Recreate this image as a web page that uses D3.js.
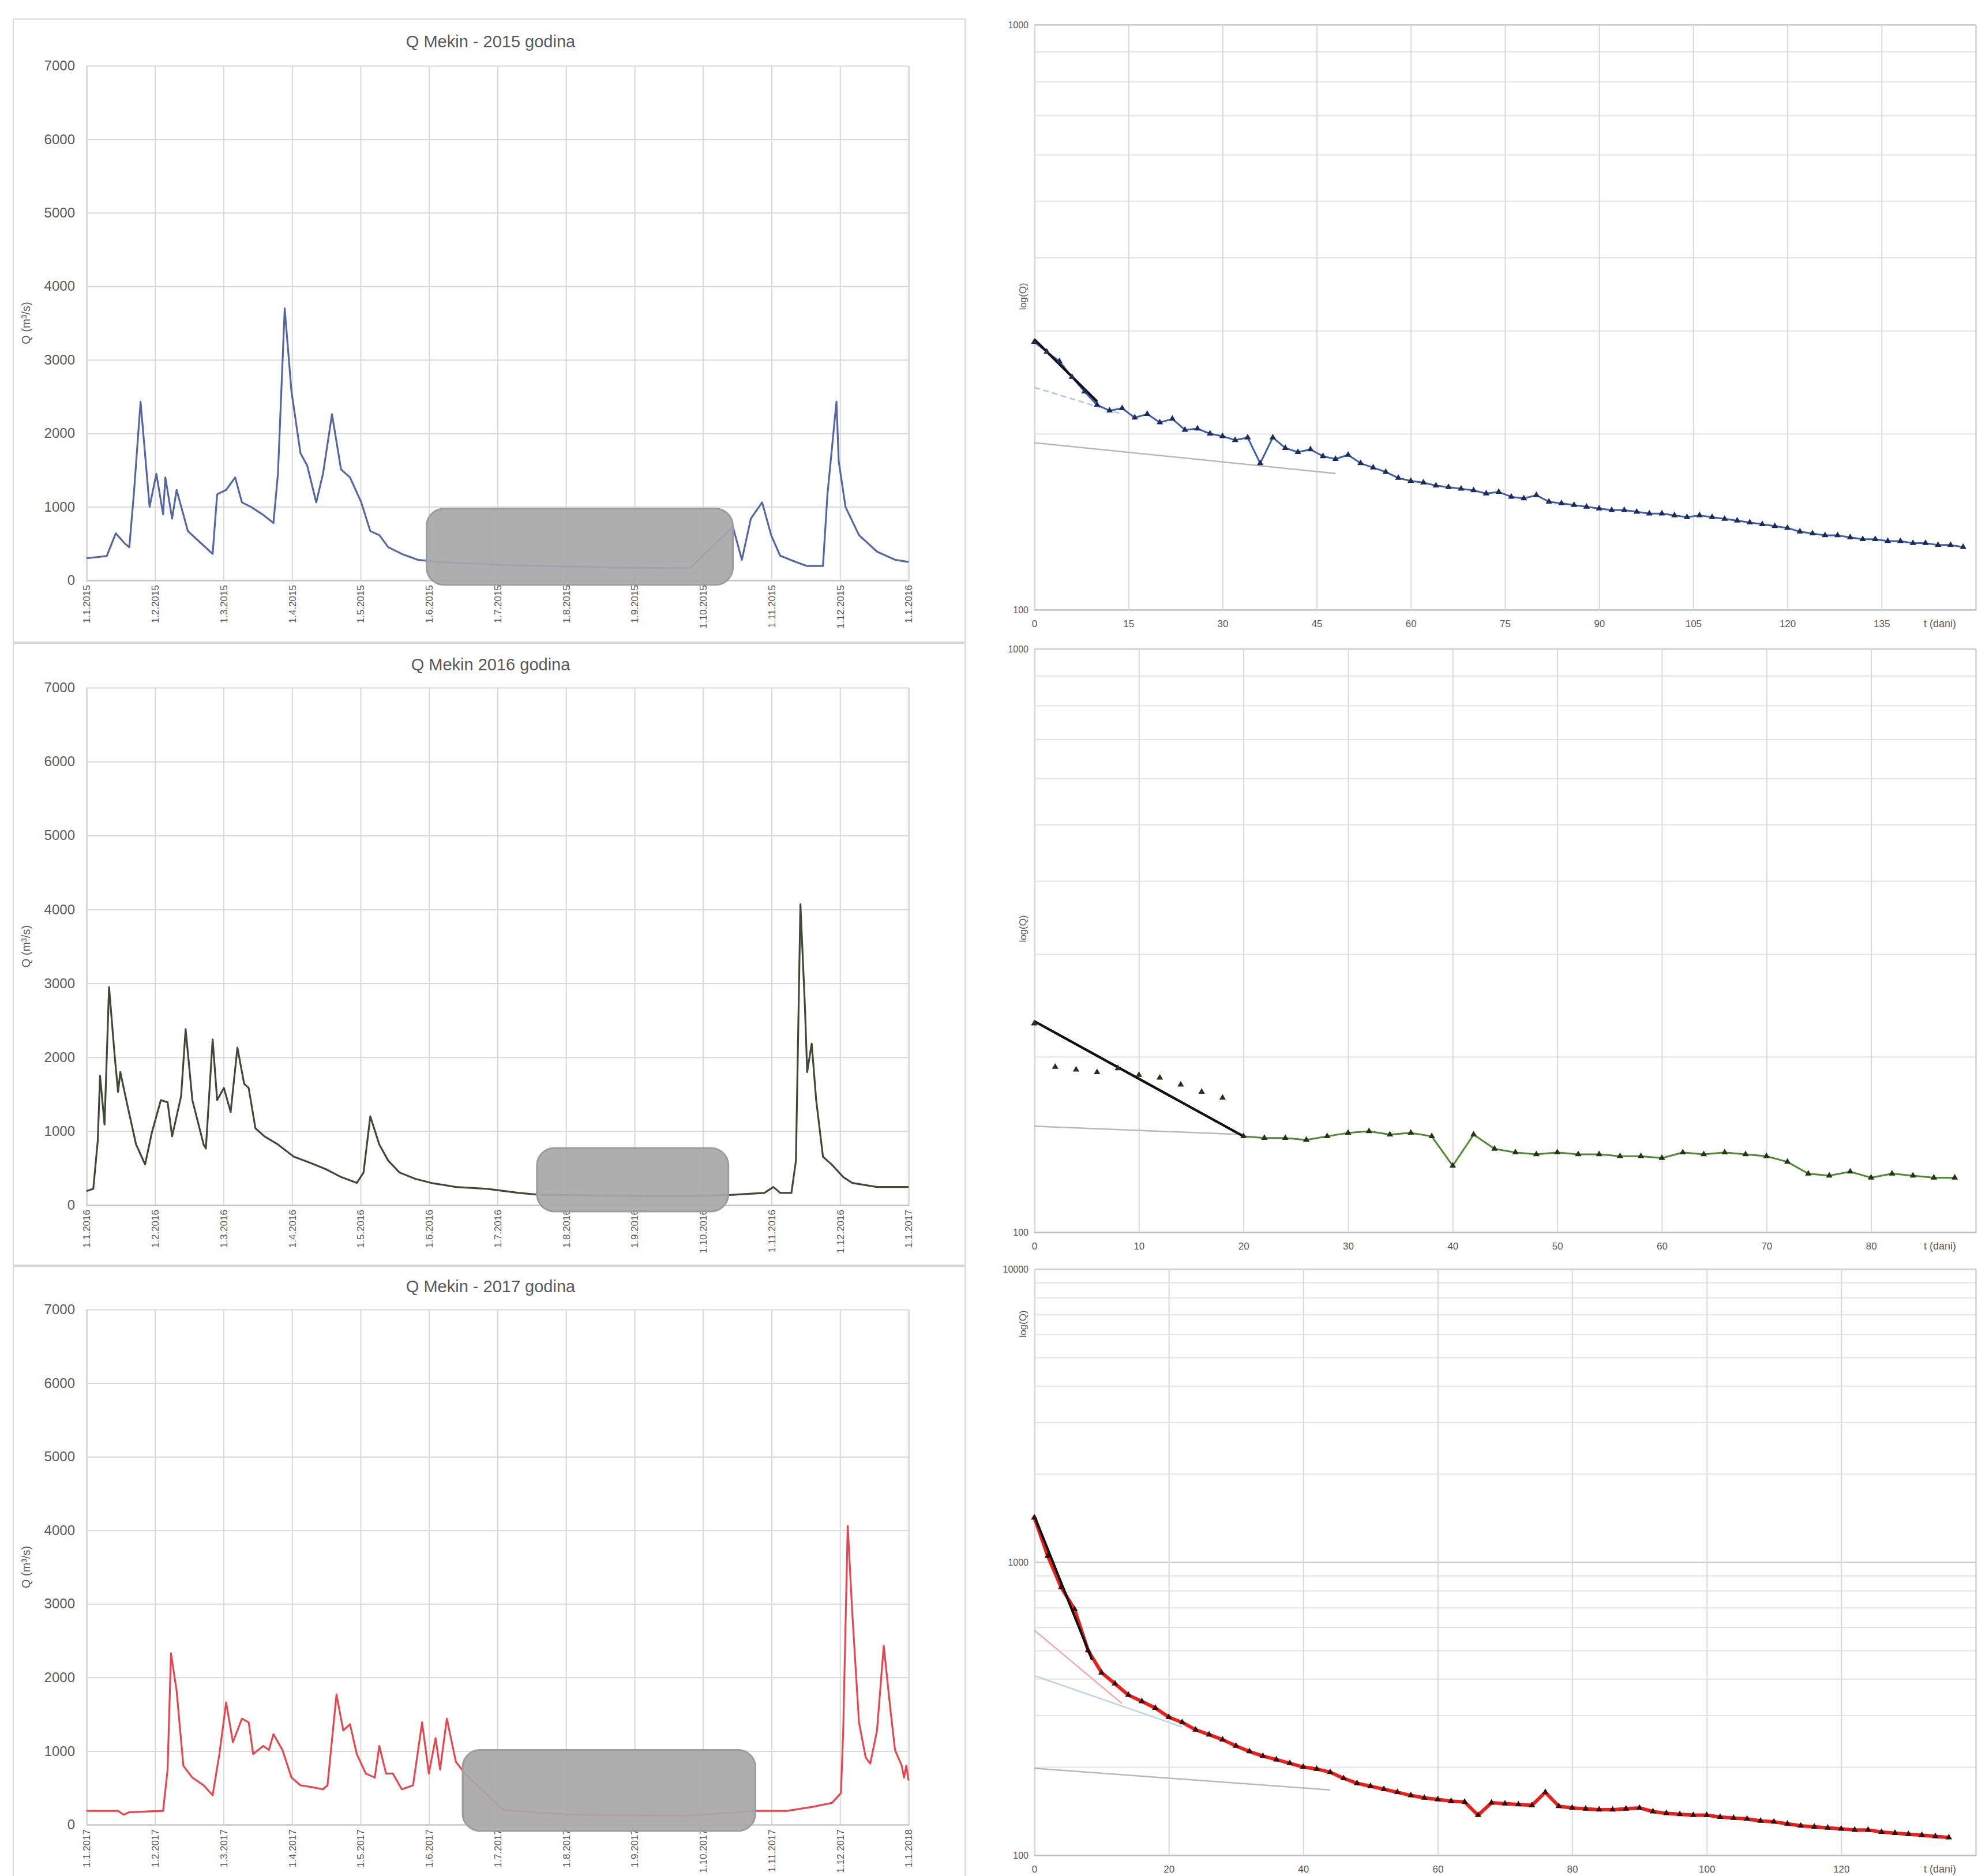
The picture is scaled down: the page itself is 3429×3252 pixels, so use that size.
<!DOCTYPE html>
<html><head><meta charset="utf-8">
<script src="https://cdn.jsdelivr.net/npm/d3@7"></script>
<style>
body{margin:0;background:#fff}
svg{display:block}
text{font-family:"Liberation Sans",Arial,sans-serif}
</style>
</head><body>
<svg id="c" width="3429" height="3252"></svg>
<script>
// ---------------- DATA ----------------
const titles = ["Q Mekin - 2015 godina", "Q Mekin 2016 godina", "Q Mekin - 2017 godina"];
const years = ["2015", "2016", "2017"];
const monthLabels = ["1.1.", "1.2.", "1.3.", "1.4.", "1.5.", "1.6.", "1.7.", "1.8.", "1.9.", "1.10.", "1.11.", "1.12.", "1.1."];
const yTicksQ = [0, 1000, 2000, 3000, 4000, 5000, 6000, 7000];

// daily discharge hydrographs (day of year, Q m3/s)
const days2015 = [0,9,13,17,19,21,24,28,31,34,35,38,40,45,51,56,58,62,66,69,73,78,83,85,88,91,95,98,102,105,109,113,117,122,126,130,134,140,147,156,184,212,240,268,287,291,295,300,304,308,315,320,327,329,333,334,337,343,351,359,365];
const q2015 = [300,330,640,500,450,1170,2430,1000,1450,900,1400,840,1230,670,500,360,1170,1230,1400,1060,1000,900,780,1450,3700,2570,1730,1560,1060,1450,2260,1510,1400,1060,670,615,450,360,280,250,210,190,170,165,730,280,840,1060,615,335,250,195,195,1170,2430,1620,1000,615,390,280,250];

const days2016 = [0,3,5,6,8,10,12.5,14,15,18,22,26,29,33,36,38,42,44,47,52,53,56,58,61,64,67,70,72,75,79,85,92,99,106,113,120,123,126,130,134,139,146,153,164,178,192,201,240,267,287,301,305,308,313,315,317,319,320,322,324,327,331,336,340,351,365];
const q2016 = [190,220,875,1750,1090,2950,2020,1530,1800,1370,820,550,980,1420,1390,930,1475,2380,1420,820,765,2240,1420,1585,1260,2130,1640,1585,1040,930,820,655,575,490,380,300,440,1200,820,600,440,355,300,245,220,165,140,125,120,140,165,245,165,165,600,4070,2680,1800,2185,1420,655,545,380,300,245,245];

const days2017 = [0,14,16.5,19,34,36,37.5,40,43,47,52,56,59,62,65,69,72,74,78.5,81,83,87,91,95,100,105,107,111,114,117,120,124,128,130,133,136,140,145,149,152,155,157,160,164,168,185,212,240,267,297,311,322,331,335,336,338,340,343,346,348,351,354,357,359,362,363,364,365];
const q2017 = [187,187,135,170,187,750,2330,1820,800,640,535,400,960,1660,1120,1440,1390,960,1070,1015,1230,1015,640,535,510,480,535,1770,1280,1365,960,695,640,1070,695,695,480,535,1390,695,1175,750,1440,855,695,200,140,125,120,187,187,240,295,430,1280,4060,2890,1390,910,830,1280,2430,1550,1015,800,640,800,600];

// highlighted recession periods (day range, Q range)
const recStart = [151, 200, 167];
const recEnd = [287, 285, 297];
const recQTop = [975, 770, 1015];
const recQBottom = [-60, -85, -85];

// recession curves (t in days, Q m3/s)
const tRec2015 = [0,2,4,6,8,10,12,14,16,18,20,22,24,26,28,30,32,34,36,38,40,42,44,46,48,50,52,54,56,58,60,62,64,66,68,70,72,74,76,78,80,82,84,86,88,90,92,94,96,98,100,102,104,106,108,110,112,114,116,118,120,122,124,126,128,130,132,134,136,138,140,142,144,146,148];
const qRec2015 = [287,276,266,250,236,224,219,221,213,216,209,212,203,204,200,198,195,197,178,197,189,186,188,183,181,184,178,175,172,168,166,165,163,162,161,160,158,159,156,155,157,153,152,151,150,149,148,148,147,146,146,145,144,145,144,143,142,141,140,139,138,136,135,134,134,133,132,132,131,131,130,130,129,129,128];

const tRec2016 = [0,2,4,6,8,10,12,14,16,18,20,22,24,26,28,30,32,34,36,38,40,42,44,46,48,50,52,54,56,58,60,62,64,66,68,70,72,74,76,78,80,82,84,86,88];
const qRec2016 = [228,192,190,188,191,186,184,179,174,170,146,145,145,144,146,148,149,147,148,146,130,147,139,137,136,137,136,136,135,135,134,137,136,137,136,135,132,126,125,127,124,126,125,124,124];

const tRec2017 = [0,2,4,6,8,10,12,14,16,18,20,22,24,26,28,30,32,34,36,38,40,42,44,46,48,50,52,54,56,58,60,62,64,66,68,70,72,74,76,78,80,82,84,86,88,90,92,94,96,98,100,102,104,106,108,110,112,114,116,118,120,122,124,126,128,130,132,134,136];
const qRec2017 = [1420,1050,820,690,500,420,385,352,335,318,296,284,268,258,248,236,226,218,212,206,200,197,192,183,176,172,168,164,160,157,155,153,152,137,151,150,149,148,164,147,145,144,143,143,144,145,141,139,138,137,137,135,134,133,131,130,128,126,125,124,123,122,122,120,119,118,117,116,115];

// fitted recession segments: [t0, t1], [q0, q1]
const fitT2015 = [[0,10],[0,14],[0,48]];
const fitQ2015 = [[290,227],[240,216],[193,171]];
const fitT2016 = [[0,20],[0,20]];
const fitQ2016 = [[230,146],[152,147]];
const fitT2017 = [[0,8.6],[0,13],[0,22],[0,44]];
const fitQ2017 = [[1440,464],[586,330],[410,274],[198,167]];

const xTickStepRec = [15, 10, 20];
const xMaxRec = [150, 90, 140];
const yMaxRec = [1000, 1000, 10000];

// ---------------- STYLE / LAYOUT ----------------
const svg = d3.select("#c");
const grid = "#d9d9d9", txt = "#595959";
const hydroColors = ["#5566a6", "#3f4a36", "#e8464e"];
const recLine = ["#3d5ea8", "#4e8a30", "#e8201c"];
const recLineW = [3, 3, 6];
const recMark = ["#1c2b5c", "#25331a", "#3a0c0c"];
const fitStyles = [
  [{c:"#111", w:4, d:null}, {c:"#a9c6e6", w:2.5, d:"10,6"}, {c:"#b8b8b8", w:2.5, d:null}],
  [{c:"#111", w:4, d:null}, {c:"#b8b8b8", w:2.5, d:null}],
  [{c:"#111", w:4, d:null}, {c:"#f2a7a7", w:2.5, d:null}, {c:"#b9d3ea", w:2.5, d:null}, {c:"#b8b8b8", w:2.5, d:null}]
];

const hydroDays = [days2015, days2016, days2017];
const hydroQ = [q2015, q2016, q2017];
const leftLayout = [
  {panelTop:33, panelBottom:1113, top:114, bottom:1006, titleY:82},
  {panelTop:1115, panelBottom:2193, top:1192, bottom:2089, titleY:1162},
  {panelTop:2195, panelBottom:3275, top:2270, bottom:3163, titleY:2240}
];
const LX0 = 150, LX1 = 1575;

leftLayout.forEach((L, k) => {
  const g = svg.append("g");
  g.append("rect").attr("x", 23).attr("y", L.panelTop).attr("width", 1650)
    .attr("height", L.panelBottom - L.panelTop).attr("fill", "none")
    .attr("stroke", grid).attr("stroke-width", 2);

  const x = d3.scaleLinear([0, 365], [LX0, LX1]);
  const y = d3.scaleLinear([0, 7000], [L.bottom, L.top]);
  const tickDays = monthLabels.map((m, i) => i * 365 / 12);
  const labels = monthLabels.map((m, i) => m + (i === 12 ? String(+years[k] + 1) : years[k]));

  // y axis + horizontal grid
  const ya = g.append("g").attr("transform", `translate(${LX0},0)`)
    .call(d3.axisLeft(y).tickValues(yTicksQ).tickFormat(d3.format("d")).tickSize(-(LX1 - LX0)).tickPadding(20));
  ya.select(".domain").remove();
  ya.selectAll("line").attr("stroke", grid).attr("stroke-width", 2);
  ya.selectAll("text").attr("font-size", 24).attr("fill", txt);

  // x axis + vertical grid
  const xa = g.append("g").attr("transform", `translate(0,${L.bottom})`)
    .call(d3.axisBottom(x).tickValues(tickDays).tickFormat((d, i) => labels[i]).tickSize(-(L.bottom - L.top)));
  xa.select(".domain").attr("stroke", "#bfbfbf").attr("stroke-width", 2);
  xa.selectAll("line").attr("stroke", grid).attr("stroke-width", 2);
  xa.selectAll("text").attr("font-size", 17).attr("fill", txt)
    .attr("transform", "rotate(-90)").attr("text-anchor", "end")
    .attr("x", -8).attr("y", 0).attr("dy", "0.35em");

  // title
  g.append("text").attr("x", (LX0 + LX1) / 2 - 12).attr("y", L.titleY)
    .attr("text-anchor", "middle").attr("font-size", 29).attr("fill", txt).text(titles[k]);
  // y title
  g.append("text").attr("transform", `translate(52,${(L.top + L.bottom) / 2}) rotate(-90)`)
    .attr("text-anchor", "middle").attr("font-size", 20).attr("fill", txt).text("Q (m³/s)");

  // series
  const pts = hydroDays[k].map((d, i) => [d, hydroQ[k][i]]);
  g.append("path").datum(pts)
    .attr("d", d3.line().x(d => x(d[0])).y(d => y(d[1])))
    .attr("fill", "none").attr("stroke", hydroColors[k]).attr("stroke-width", 3.2)
    .attr("stroke-linejoin", "round");

  // recession highlight box
  g.append("rect")
    .attr("x", x(recStart[k])).attr("y", y(recQTop[k]))
    .attr("width", x(recEnd[k]) - x(recStart[k]))
    .attr("height", y(recQBottom[k]) - y(recQTop[k]))
    .attr("rx", 30).attr("ry", 30)
    .attr("fill", "#a8a8a8").attr("fill-opacity", 0.93)
    .attr("stroke", "#9c9c9c").attr("stroke-width", 3);
});

// ---------------- RECESSION CHARTS ----------------
const recT = [tRec2015, tRec2016, tRec2017];
const recQ = [qRec2015, qRec2016, qRec2017];
const fitT = [fitT2015, fitT2016, fitT2017];
const fitQ = [fitQ2015, fitQ2016, fitQ2017];
const lineFrom = [0, 20, 0];
const rightLayout = [
  {top:43, bottom:1057, labelY:514},
  {top:1125, bottom:2136, labelY:1610},
  {top:2200, bottom:3216, labelY:2295}
];
const RX0 = 1793, RX1 = 3425;

rightLayout.forEach((L, k) => {
  const g = svg.append("g");
  const x = d3.scaleLinear([0, xMaxRec[k]], [RX0, RX1]);
  const y = d3.scaleLog([100, yMaxRec[k]], [L.bottom, L.top]);
  const xt = d3.range(0, xMaxRec[k], xTickStepRec[k]);

  // horizontal grid (minor log)
  const gy = g.append("g").attr("transform", `translate(${RX0},0)`)
    .call(d3.axisLeft(y).tickValues(y.ticks()).tickFormat("").tickSize(-(RX1 - RX0)));
  gy.select(".domain").attr("stroke", "#bfbfbf").attr("stroke-width", 2);
  gy.selectAll("line").attr("stroke", "#e3e3e3").attr("stroke-width", 2);
  // decade labels
  const decades = y.ticks().filter(v => Math.abs(Math.log10(v) % 1) < 1e-9);
  const ly = g.append("g").attr("transform", `translate(${RX0},0)`)
    .call(d3.axisLeft(y).tickValues(decades).tickFormat(d3.format("d")).tickSize(0).tickPadding(10));
  ly.select(".domain").remove();
  ly.selectAll("text").attr("font-size", 16).attr("fill", txt);
  ly.selectAll(".tick line").remove();
  g.selectAll(".decgrid").data(decades).join("line")
    .attr("x1", RX0).attr("x2", RX1).attr("y1", d => y(d)).attr("y2", d => y(d))
    .attr("stroke", "#cfcfcf").attr("stroke-width", 2);

  // x axis + vertical grid
  const xa = g.append("g").attr("transform", `translate(0,${L.bottom})`)
    .call(d3.axisBottom(x).tickValues(xt).tickSize(-(L.bottom - L.top)).tickPadding(18));
  xa.select(".domain").attr("stroke", "#bfbfbf").attr("stroke-width", 2);
  xa.selectAll("line").attr("stroke", grid).attr("stroke-width", 2);
  xa.selectAll("text").attr("font-size", 17).attr("fill", txt);

  g.append("text").attr("x", RX1 - 62).attr("y", L.bottom + 30).attr("text-anchor", "middle")
    .attr("font-size", 18).attr("fill", txt).text("t (dani)");
  g.append("text").attr("transform", `translate(${RX0 - 14},${L.labelY}) rotate(-90)`)
    .attr("text-anchor", "middle").attr("font-size", 17).attr("fill", txt).text("log(Q)");

  // fitted segments
  fitT[k].forEach((tt, j) => {
    const s = fitStyles[k][j];
    g.append("path").datum(tt.map((t, i) => [t, fitQ[k][j][i]]))
      .attr("d", d3.line().x(d => x(d[0])).y(d => y(d[1])))
      .attr("fill", "none").attr("stroke", s.c).attr("stroke-width", s.w)
      .attr("stroke-dasharray", s.d);
  });

  // data line + markers
  const pts = recT[k].map((t, i) => [t, recQ[k][i]]);
  g.append("path").datum(pts)
    .attr("d", d3.line().defined(d => d[0] >= lineFrom[k]).x(d => x(d[0])).y(d => y(d[1])))
    .attr("fill", "none").attr("stroke", recLine[k]).attr("stroke-width", recLineW[k])
    .attr("stroke-linejoin", "round");
  // black fit on top (first segment)
  g.append("path").datum(fitT[k][0].map((t, i) => [t, fitQ[k][0][i]]))
    .attr("d", d3.line().x(d => x(d[0])).y(d => y(d[1])))
    .attr("fill", "none").attr("stroke", "#111").attr("stroke-width", 4);
  g.selectAll(".mk").data(pts).join("path")
    .attr("transform", d => `translate(${x(d[0])},${y(d[1])})`)
    .attr("d", d3.symbol(d3.symbolTriangle, 55))
    .attr("fill", recMark[k]);
});
</script>
</body></html>
